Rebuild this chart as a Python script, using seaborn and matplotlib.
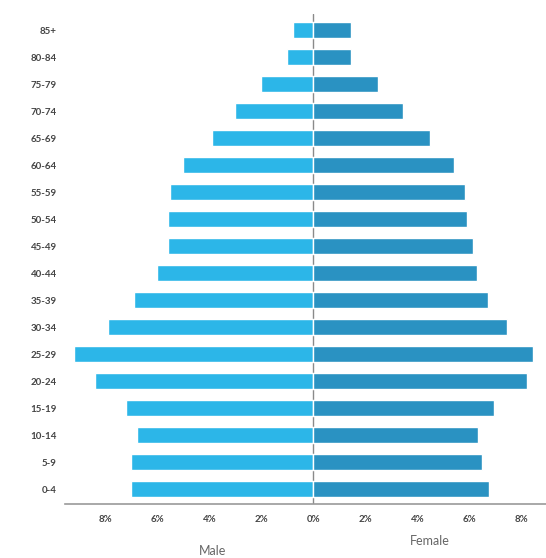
import matplotlib
matplotlib.use("Agg")
import matplotlib.pyplot as plt
import seaborn as sns
import pandas as pd

# Age groups, oldest at the top
age_groups = ["85+", "80-84", "75-79", "70-74", "65-69", "60-64", "55-59", "50-54",
              "45-49", "40-44", "35-39", "30-34", "25-29", "20-24", "15-19",
              "10-14", "5-9", "0-4"]

# Share of population (%) by sex
male_pct = [0.8, 1.0, 2.0, 3.0, 3.9, 5.0, 5.5, 5.6, 5.6, 6.0, 6.9, 7.9, 9.2,
            8.4, 7.2, 6.8, 7.0, 7.0]
female_pct = [1.45, 1.45, 2.5, 3.45, 4.5, 5.4, 5.85, 5.9, 6.15, 6.3, 6.7, 7.45,
              8.45, 8.2, 6.95, 6.35, 6.5, 6.75]

x_ticks = [-8, -6, -4, -2, 0, 2, 4, 6, 8]
x_tick_labels = ["8%", "6%", "4%", "2%", "0%", "2%", "4%", "6%", "8%"]

male_color = "#2cb6e8"
female_color = "#2a92c2"

df = pd.DataFrame({
    "age": age_groups * 2,
    "pct": [-v for v in male_pct] + female_pct,
    "sex": ["Male"] * len(age_groups) + ["Female"] * len(age_groups),
})

sns.set_theme(style="white")
plt.rcParams["font.family"] = ["Lato", "DejaVu Sans"]

fig = plt.figure(figsize=(5.46, 5.58), dpi=100)
ax = fig.add_axes([65 / 546, 54 / 558, 481 / 546, 490 / 558])

sns.barplot(data=df, x="pct", y="age", hue="sex", order=age_groups,
            palette={"Male": male_color, "Female": female_color},
            dodge=False, width=0.6, orient="h", legend=False, ax=ax,
            saturation=1)

ax.axvline(0, color="#8a8a8a", lw=1.0, zorder=0)

ax.set_xlim(-9.55, 8.95)
ax.set_ylim(17.55, -0.6)
ax.set_xticks(x_ticks)
ax.set_xticklabels(x_tick_labels, fontsize=7, color="#444444", fontweight="bold")
ax.tick_params(axis="y", labelsize=7, colors="#444444", length=0, pad=6)
ax.tick_params(axis="x", length=0, pad=8)
for lbl in ax.get_yticklabels():
    lbl.set_fontweight("bold")
ax.set_xlabel("")
ax.set_ylabel("")

for side in ["top", "right", "left"]:
    ax.spines[side].set_visible(False)
ax.spines["bottom"].set_color("#9a9a9a")
ax.spines["bottom"].set_linewidth(1.2)

fig.text(213 / 546, 1 - 551 / 558, "Male", ha="center", va="center",
         fontsize=9, color="#666666")
fig.text(430 / 546, 1 - 541 / 558, "Female", ha="center", va="center",
         fontsize=9, color="#666666")

fig.savefig("out.png", dpi=100, facecolor="white")
